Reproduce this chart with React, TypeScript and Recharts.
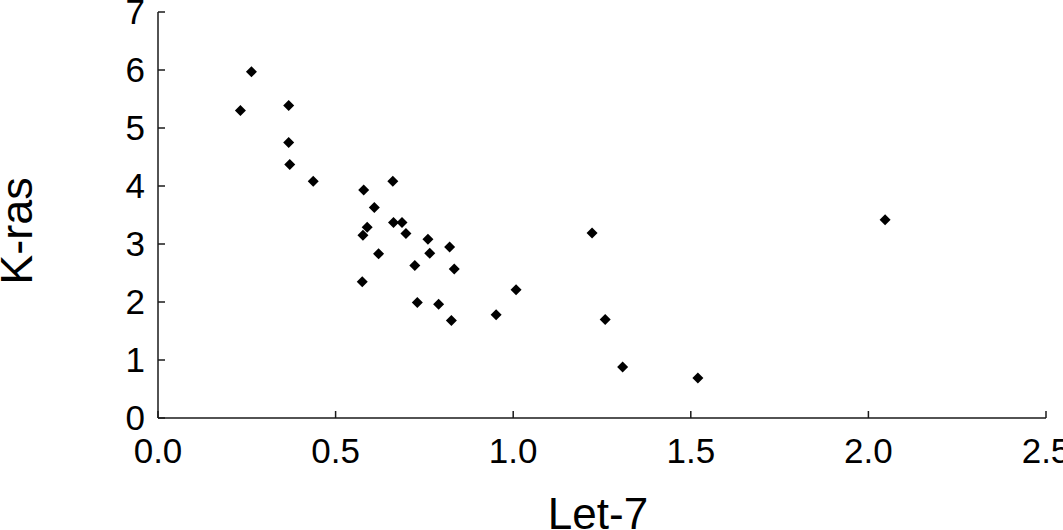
import { Scatter, ScatterChart, XAxis, YAxis } from "recharts";

// Let-7 (x) vs K-ras (y), one entry per sample.
const letSeven = [
  0.232, 0.263, 0.368, 0.368, 0.371, 0.437, 0.579, 0.661, 0.609, 0.589, 0.577,
  0.663, 0.687, 0.698, 0.76, 0.821, 0.765, 0.621, 0.723, 0.834, 0.575, 1.008,
  0.73, 0.79, 0.952, 0.826, 1.222, 2.047, 1.259, 1.308, 1.52,
];
const kRas = [
  5.3, 5.97, 5.39, 4.75, 4.37, 4.08, 3.93, 4.08, 3.63, 3.29, 3.15, 3.37, 3.37,
  3.18, 3.08, 2.95, 2.84, 2.83, 2.63, 2.57, 2.35, 2.21, 1.99, 1.96, 1.78, 1.68,
  3.19, 3.42, 1.7, 0.88, 0.69,
];
const xTicks = [0, 0.5, 1, 1.5, 2, 2.5];
const yTicks = [0, 1, 2, 3, 4, 5, 6, 7];

const FONT = "'Liberation Sans', Arial, sans-serif";
const AXIS = "#1a1a1a";

const points = letSeven.map((x, i) => ({ x, y: kRas[i] }));

// square diamond marker centred on the scaled point
function Diamond({ cx, cy }: { cx?: number; cy?: number }) {
  if (cx == null || cy == null) return null;
  const r = 5.5;
  return (
    <polygon
      points={`${cx},${cy - r} ${cx + r},${cy} ${cx},${cy + r} ${cx - r},${cy}`}
      fill="#000"
    />
  );
}

function XTitle({ viewBox }: any) {
  const cx = viewBox.x + viewBox.width / 2 - 4;
  return (
    <text x={cx} y={viewBox.y + 111} textAnchor="middle" fontSize={44} fontFamily={FONT} fill="#000">
      Let-7
    </text>
  );
}

function YTitle({ viewBox }: any) {
  // baseline sits on the right side once rotated
  const bx = viewBox.x + 32;
  const cy = viewBox.y + viewBox.height / 2 + 16;
  return (
    <text
      x={bx}
      y={cy}
      transform={`rotate(-90 ${bx} ${cy})`}
      textAnchor="middle"
      fontSize={45}
      fontFamily={FONT}
      fill="#000"
    >
      K-ras
    </text>
  );
}

export default function App() {
  return (
    <div style={{ position: "absolute", left: 0, top: 0, background: "#fff" }}>
      <ScatterChart width={1063} height={530} margin={{ top: 12, right: 17, bottom: 0, left: 0 }}>
        <XAxis
          type="number"
          dataKey="x"
          domain={[0, 2.5]}
          ticks={xTicks}
          interval={0}
          tickFormatter={(v: number) => v.toFixed(1)}
          height={112}
          tickSize={-7}
          tickMargin={27}
          axisLine={{ stroke: AXIS, strokeWidth: 1.5 }}
          tickLine={{ stroke: AXIS, strokeWidth: 1.5 }}
          tick={{ fill: "#000", fontSize: 35, fontFamily: FONT }}
          label={<XTitle />}
        />
        <YAxis
          type="number"
          dataKey="y"
          domain={[0, 7]}
          ticks={yTicks}
          interval={0}
          width={158}
          tickSize={-7}
          tickMargin={20}
          axisLine={{ stroke: AXIS, strokeWidth: 1.5 }}
          tickLine={{ stroke: AXIS, strokeWidth: 1.5 }}
          tick={{ fill: "#000", fontSize: 35, fontFamily: FONT }}
          label={<YTitle />}
        />
        <Scatter data={points} shape={<Diamond />} isAnimationActive={false} />
      </ScatterChart>
    </div>
  );
}
